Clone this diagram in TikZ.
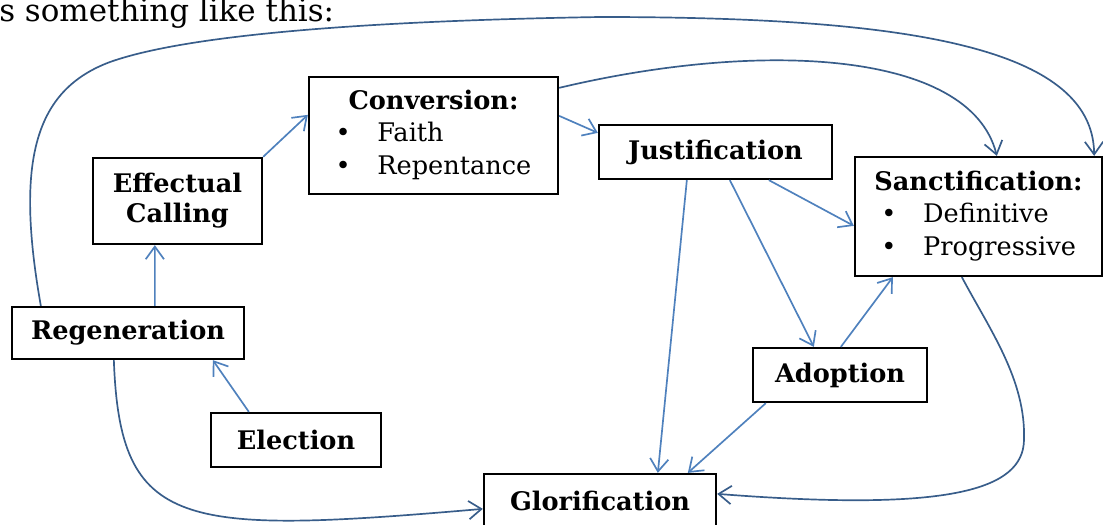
\documentclass[tikz,border=0pt]{standalone}
\usepackage{fontspec}
\setmainfont{DejaVu Serif}
\usetikzlibrary{arrows.meta,calc}
\definecolor{arrow-blue}{RGB}{79,129,189}
\definecolor{arrow-dark-blue}{RGB}{56,93,138}

\begin{document}
\begin{tikzpicture}[x=0.025cm, y=-0.025cm,
  box/.style={draw, line width=1.6pt, inner sep=0pt, align=center, font=\fontsize{18.2}{21.5}\selectfont\bfseries},
  listbox/.style={draw, line width=1.6pt, inner sep=0pt, font=\fontsize{18.2}{23}\selectfont},
  arr/.style={draw=arrow-blue, line width=1.2pt, -{Straight Barb[length=9pt, width=13pt]}},
  bow/.style={arr, draw=arrow-dark-blue}]
\useasboundingbox (0,0) rectangle (1103,525);
%Text darueber:
\node[anchor=base west, inner sep=0pt, font=\fontsize{22}{26}\selectfont] (intro) at (-1,22) {s something like this:};
%Kaesten:
\node[listbox, minimum width=6.225cm, minimum height=2.925cm] (conv) at (433.5,135.5) {\begin{tabular}{@{}l@{\hspace{19pt}}l@{}}\multicolumn{2}{c}{\textbf{Conversion:}}\\ \textbullet & Faith\\ \textbullet & Repentance\end{tabular}};
\node[box, minimum width=4.225cm, minimum height=2.15cm] (effcall) at (177.5,201) {Effectual\\Calling};
\node[box, minimum width=5.8cm, minimum height=1.3cm] (regen) at (128,333) {Regeneration};
\node[box, minimum width=4.25cm, minimum height=1.35cm] (elect) at (296,440) {Election};
\node[box, minimum width=5.825cm, minimum height=1.35cm] (justif) at (715.5,152) {Justification};
\node[listbox, minimum width=6.175cm, minimum height=2.975cm] (sanct) at (978.5,216.5) {\begin{tabular}{@{}l@{\hspace{19pt}}l@{}}\multicolumn{2}{c}{\textbf{Sanctification:}}\\ \hspace{11pt}\textbullet & Definitive\\ \hspace{11pt}\textbullet & Progressive\end{tabular}};
\node[box, minimum width=4.35cm, minimum height=1.35cm] (adopt) at (840,375) {Adoption};
\node[box, minimum width=5.8cm, minimum height=1.35cm] (glori) at (600,501) {Glorification};
%gerade Pfeile:
\draw[arr] ($(regen.north west)+(144,0)$) -- ($(effcall.south west)+(63,0)$);
\draw[arr] ($(elect.north west)+(39,0)$) -- ($(regen.south west)+(202,0)$);
\draw[arr] (effcall.north east) -- ($(conv.north west)+(0,39)$);
\draw[arr] ($(conv.north east)+(0,40)$) -- ($(justif.north west)+(0,9)$);
\draw[arr] ($(justif.south west)+(171,0)$) -- ($(sanct.north west)+(0,70)$);
\draw[arr] ($(justif.south west)+(132,0)$) -- ($(adopt.north west)+(62,0)$);
\draw[arr] ($(justif.south west)+(89,0)$) -- ($(glori.north west)+(175,0)$);
\draw[arr] ($(adopt.north west)+(89,0)$) -- ($(sanct.south west)+(39,0)$);
\draw[arr] ($(adopt.south west)+(14,0)$) -- ($(glori.north west)+(205,0)$);
%Boegen:
\draw[bow] ($(regen.north west)+(30,0)$) .. controls (15,160) and (35,90) .. (110,62) .. controls (200,30) and (420,20) .. (600,17) .. controls (900,17) and (1093,45) .. ($(sanct.north east)+(-9,0)$);
\draw[bow] ($(conv.north east)+(0,12)$) .. controls (760,40) and (970,50) .. ($(sanct.north west)+(143,0)$);
\draw[bow] ($(regen.south west)+(103,0)$) .. controls (120,530) and (180,535) .. ($(glori.north west)+(0,36)$);
\draw[bow] ($(sanct.south west)+(108,0)$) .. controls (990,330) and (1026,380) .. (1024,440) .. controls (1023,490) and (950,512) .. ($(glori.north east)+(0,21)$);
\end{tikzpicture}
\end{document}
